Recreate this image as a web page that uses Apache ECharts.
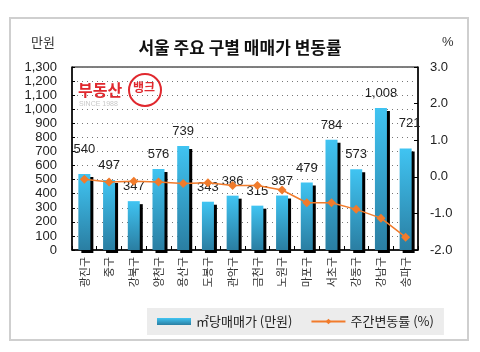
<!DOCTYPE html>
<html>
<head>
<meta charset="utf-8">
<script src="https://cdn.jsdelivr.net/npm/echarts@6/dist/echarts.min.js"></script>
<style>
  html, body { margin: 0; padding: 0; background: #fff; }
  #grafica { width: 480px; height: 352px; }
</style>
</head>
<body>
<div id="grafica"></div>
<script>
// datos del grafico
var gu = ["광진구", "중구", "강북구", "양천구", "용산구", "도봉구", "관악구",
  "금천구", "노원구", "마포구", "서초구", "강동구", "강남구", "송파구"];
var precioM2 = [540, 497, 347, 576, 739, 343, 386, 315, 387, 479, 784, 573, 1008, 721];
var cambioSemanal = [-0.07, -0.14, -0.12, -0.14, -0.18, -0.16, -0.24,
  -0.24, -0.36, -0.71, -0.71, -0.89, -1.13, -1.65];

var fuenteNum = "'Liberation Sans', 'Noto Sans CJK KR', sans-serif";
var fuenteKr = "'Noto Sans CJK KR', sans-serif";

document.addEventListener("DOMContentLoaded", function () {
  cargarGrafica();
});

function cargarGrafica() {
  var chart = echarts.init(document.getElementById("grafica"));

  var degradado = new echarts.graphic.LinearGradient(0, 0, 0, 1, [
    { offset: 0, color: "#40c4f2" },
    { offset: 1, color: "#2a7ea2" },
  ]);

  // algunas etiquetas se desplazan como en el original
  var datosBarras = precioM2.map(function (v, i) {
    var item = { value: v };
    if (i === 0) item.label = { offset: [0, -10] };
    if (i === precioM2.length - 1) item.label = { offset: [4, -11] };
    return item;
  });

  var option = {
    backgroundColor: "#fff",
    animation: false,
    title: {
      text: "서울 주요 구별 매매가 변동률",
      left: "center",
      top: 34,
      textStyle: { fontFamily: fuenteKr, fontSize: 17, fontWeight: "bold", color: "#111" },
    },
    graphic: [
      {
        type: "rect",
        shape: { x: 10, y: 18, width: 458, height: 322 },
        style: { fill: "none", stroke: "#cfcfcf", lineWidth: 2 },
        silent: true,
      },
      {
        type: "text", left: 31, top: 36,
        style: { text: "만원", font: "13px " + fuenteKr, fill: "#333" },
      },
      {
        type: "text", left: 442, top: 36,
        style: { text: "%", font: "13px " + fuenteNum, fill: "#333" },
      },
      // logo
      {
        type: "text", left: 78, top: 82,
        style: { text: "부동산", font: "bold 16px " + fuenteKr, fill: "#e0282e" },
      },
      {
        type: "circle",
        shape: { cx: 145, cy: 90, r: 16 },
        style: { fill: "none", stroke: "#e0282e", lineWidth: 2 },
      },
      {
        type: "text", left: 133, top: 81,
        style: { text: "뱅크", font: "bold 12px " + fuenteKr, fill: "#e0282e" },
      },
      {
        type: "text", left: 79, top: 101,
        style: { text: "SINCE 1988", font: "7px " + fuenteNum, fill: "#c8c8c8" },
      },
    ],
    legend: {
      left: 147,
      top: 308,
      padding: [7, 10],
      backgroundColor: "#ececec",
      itemGap: 18,
      itemWidth: 34,
      itemHeight: 7,
      textStyle: { fontFamily: fuenteKr, fontSize: 13, color: "#222" },
      data: [
        { name: "㎡당매매가 (만원)", icon: "rect" },
        { name: "주간변동률 (%)" },
      ],
    },
    grid: {
      left: 72,
      right: 62,
      top: 67,
      bottom: 102,
      show: true,
      borderColor: "#000",
      borderWidth: 1,
    },
    xAxis: {
      type: "category",
      data: gu,
      axisLine: { lineStyle: { color: "#000", width: 1.5 } },
      axisTick: { show: true, inside: true, length: 4, lineStyle: { color: "#000" } },
      axisLabel: {
        rotate: 90,
        margin: 7,
        fontFamily: fuenteKr,
        fontSize: 11,
        color: "#333",
      },
    },
    yAxis: [
      {
        type: "value",
        min: 0,
        max: 1300,
        interval: 100,
        axisLine: { show: true, lineStyle: { color: "#000", width: 1.5 } },
        axisTick: { show: true, inside: true, length: 3, lineStyle: { color: "#000" } },
        axisLabel: {
          margin: 15,
          fontFamily: fuenteNum,
          fontSize: 13,
          color: "#222",
          formatter: function (v) { return v.toLocaleString("en-US"); },
        },
        splitLine: { show: true, lineStyle: { color: "#777", type: [1, 4], width: 1 } },
      },
      {
        type: "value",
        min: -2,
        max: 3,
        interval: 1,
        axisLine: { show: true, lineStyle: { color: "#000", width: 1.5 } },
        axisTick: { show: true, inside: true, length: 4, lineStyle: { color: "#000" } },
        axisLabel: {
          margin: 12,
          fontFamily: fuenteNum,
          fontSize: 13,
          color: "#222",
          formatter: function (v) { return v.toFixed(1); },
        },
        splitLine: { show: false },
      },
    ],
    series: [
      {
        name: "㎡당매매가 (만원)",
        type: "bar",
        barWidth: 12,
        data: datosBarras,
        itemStyle: {
          color: degradado,
          shadowColor: "#000",
          shadowBlur: 0,
          shadowOffsetX: 3,
          shadowOffsetY: 3,
        },
        label: {
          show: true,
          position: "top",
          distance: 8,
          fontFamily: fuenteNum,
          fontSize: 13,
          color: "#222",
          formatter: function (p) { return p.value.toLocaleString("en-US"); },
        },
      },
      {
        name: "주간변동률 (%)",
        type: "line",
        yAxisIndex: 1,
        data: cambioSemanal,
        symbol: "diamond",
        symbolSize: 9,
        z: 5,
        lineStyle: { color: "#f17b2b", width: 1.5 },
        itemStyle: { color: "#f17b2b" },
      },
    ],
  };

  chart.setOption(option);
}
</script>
</body>
</html>
